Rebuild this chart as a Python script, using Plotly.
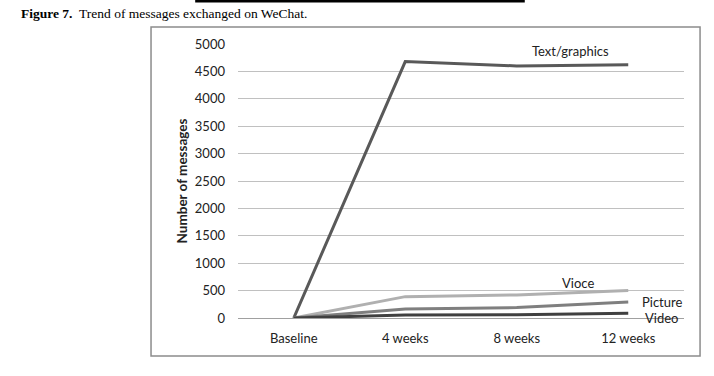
import plotly.graph_objects as go

categories = ["Baseline", "4 weeks", "8 weeks", "12 weeks"]
text_graphics = [0, 4680, 4600, 4620]
voice = [0, 390, 420, 500]
picture = [0, 165, 190, 290]
video = [0, 55, 60, 85]

series = [
    ("Text/graphics", text_graphics, "#595959", 3),
    ("Vioce", voice, "#b0b0b0", 3),
    ("Picture", picture, "#7f7f7f", 3),
    ("Video", video, "#404040", 3),
]

FONT = "Lato, Open Sans, sans-serif"

fig = go.Figure()
for name, vals, color, w in series:
    fig.add_trace(go.Scatter(x=categories, y=vals, mode="lines", name=name,
                             line=dict(color=color, width=w), showlegend=False))

labels = [
    ("Text/graphics", 2.48, 4880),
    ("Vioce", 2.55, 630),
    ("Picture", 3.30, 300),
    ("Video", 3.30, 5),
]
for txt, xv, yv in labels:
    fig.add_annotation(x=xv, y=yv, xref="x", yref="y", text=txt, showarrow=False,
                       font=dict(family=FONT, size=13, color="#222222"))

# frame around chart
fig.add_shape(type="rect", xref="paper", yref="paper", x0=-0.195, x1=1.036, y0=-0.139, y1=1.062,
              line=dict(color="#8c8c8c", width=1.5), layer="below")
# top partial rule
fig.add_shape(type="line", xref="paper", yref="paper", x0=-0.096, x1=0.643, y0=1.157, y1=1.157,
              line=dict(color="black", width=3))

fig.add_annotation(x=-0.491, y=1.113, xref="paper", yref="paper", xanchor="left", yanchor="middle",
                   showarrow=False,
                   text="<b>Figure 7.</b>  Trend of messages exchanged on WeChat.",
                   font=dict(family="Liberation Serif, Times New Roman, serif", size=13.5, color="black"))

fig.update_layout(
    width=714, height=376,
    margin=dict(l=238, r=30, t=44, b=58),
    paper_bgcolor="white", plot_bgcolor="white",
    font=dict(family=FONT, size=13, color="#222222"),
    xaxis=dict(type="category", range=[-0.5, 3.5], showgrid=False, showline=True,
               linecolor="#a0a0a0", linewidth=1,
               ticks="outside", ticklen=8, tickcolor="rgba(0,0,0,0)",
               tickfont=dict(size=13), zeroline=False, automargin=False),
    yaxis=dict(range=[0, 5000], dtick=500, showgrid=True, gridcolor="#c0c0c0", gridwidth=1,
               zeroline=False, showline=False, ticks="", ticklabelstandoff=12,
               tickfont=dict(size=13), automargin=False,
               title=dict(text="<b>Number of messages</b>", font=dict(size=13.5), standoff=4)),
)

fig.write_html("out.html", config={"displayModeBar": False},
               post_script="document.body.style.margin='0';")
